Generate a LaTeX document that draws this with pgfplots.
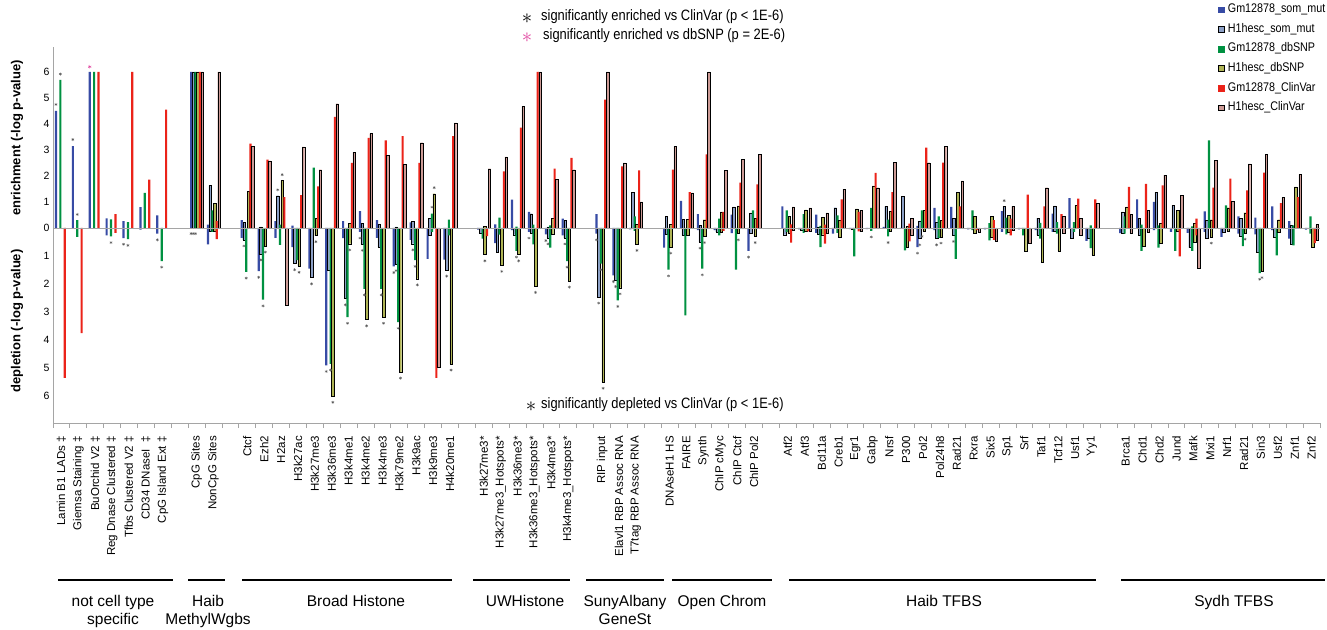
\documentclass[border=0pt]{standalone}
\usepackage{fontspec}
\setmainfont{Liberation Sans}
\newfontfamily\condfont[FakeStretch=0.86]{Liberation Sans}
\usepackage{pgfplots}
\usepackage{pgfplotstable}
\pgfplotsset{compat=1.18}

\definecolor{cGmSom}{RGB}{55,75,165}
\definecolor{cH1Som}{RGB}{140,160,198}
\definecolor{cGmDb}{RGB}{0,145,65}
\definecolor{cH1Db}{RGB}{175,180,85}
\definecolor{cGmCv}{RGB}{235,35,25}
\definecolor{cH1Cv}{RGB}{205,155,150}
\definecolor{cStar}{RGB}{90,90,90}
\definecolor{cPinkStar}{RGB}{225,70,160}
\definecolor{cAxis}{RGB}{165,165,165}

\newcommand\ticfont{\fontsize{11.5}{13}\selectfont}
\newcommand\yticfont{\fontsize{10.5}{12}\selectfont}
\newcommand\legfont{\condfont\fontsize{12.5}{14}\selectfont}
\newcommand\annfont{\condfont\fontsize{15}{17}\selectfont}
\newcommand\grpfont{\fontsize{15.5}{18}\selectfont}
\newcommand\ylabfont{\bfseries\fontsize{13}{15}\selectfont}

\pgfplotsset{
  gmbar/.style={ybar, bar width=0.13, draw=none, fill=#1, forget plot},
  h1bar/.style={ybar, bar width=0.15, draw=black, line width=0.3pt, fill=#1, forget plot},
}

% enrichment (-log p) per category slot
\pgfplotstableread{
x bu lu gu ou ru pu
0 4.5 0 5.7 0 0 0
1 3.15 0 0.3 0 0 0
2 6 0 6 0 6 0
3 0.37 0 0.33 0 0.53 0
4 0.26 0 0.23 0 6 0
5 0.8 0 1.35 0 1.86 0
6 0.49 0 0 0 4.55 0
8 6 6 6 6 6 6
9 0.13 1.64 0.68 0.96 0.26 6
11 0.3 0.23 0 1.42 3.24 3.14
12 0 0.04 0 0 2.63 2.58
13 0.26 1.24 0.13 1.83 1.19 0
14 0.09 0 0 0 1.26 3.12
15 0 0 2.32 0.36 1.6 2.24
16 0 0 0 0 4.27 4.78
17 0.26 0 0 0.17 2.5 2.92
18 0.65 0.17 0 0 3.47 3.63
19 0.3 0.13 0 0 3.37 2.8
20 0 0.04 0 0 3.53 2.45
21 0.22 0.26 0 0 2.5 3.28
22 0 0.36 0.55 1.32 0 0
23 0 0 0.32 0 3.53 4.04
25 0 0 0 0.06 0 2.28
26 0.14 0 0.4 0 2.18 2.73
27 1.09 0 0.05 0 3.86 4.68
28 0.62 0.55 0.13 0 6 6
29 0 0.04 0.1 0.38 2.28 1.86
30 0.36 0.3 0 0 2.7 2.24
32 0.53 0 0 0 4.94 6
33 0 0 0 0 2.37 2.5
34 0 1.38 0.45 0.13 2.22 1.0
36 0 0.45 0 0.13 2.24 3.14
37 1.04 0.33 0 0.33 1.38 1.35
38 0.53 0.1 0 0.32 2.83 6
39 0 0 0.36 0.62 0.62 2.22
40 0.51 0.81 0 0.85 1.74 2.63
41 0 0.58 0.68 0.36 1.68 2.83
43 0.83 0 0.68 0.45 0.14 0.81
44 0 0 0.53 0.7 0 0.77
45 0.51 0.04 0.08 0.42 0.13 0.58
46 0 0.78 0.49 0.3 1.1 1.49
47 0 0 0 0.74 0.62 0.68
48 0 0 0.77 1.62 2.12 1.55
49 0.04 0.83 0.32 0.65 1.38 2.53
50 0 1.23 0 0.06 0.17 0.38
51 0.08 0.27 0.68 0.68 3.09 2.51
52 0.77 0.23 0.45 0.3 2.51 3.14
53 0.81 0.38 0 1.38 0.83 1.81
54 0 0 0.68 0.46 0 0
55 0 0 0.19 0.46 0.3 0
56 0.65 0.83 0.4 0.49 0.36 0.83
57 0 0 0 0 1.28 0
58 0 0.38 0.2 0 0.83 1.55
59 0.55 0.85 0.23 0 0.53 0.45
60 1.15 0 0.23 0.87 1.13 0.36
61 0 0 0.1 0 1.1 0.94
63 0 0.62 0.45 0.81 1.58 0.53
64 1.1 0.36 0.13 0 1.7 0.68
65 1.0 1.37 0.1 0.17 1.64 2.03
66 0 0.87 0 0.68 0 1.26
67 0 0 0.06 0.19 0.36 0
68 0.64 0.3 3.37 0.32 1.55 2.6
69 0 0 0.87 0.78 1.9 1.03
70 0.45 0.36 0 0.59 1.45 2.47
71 0.4 0 0 0 2.13 2.83
72 0.83 0 0 0.32 0.96 1.17
73 0.26 0.1 0.1 1.58 1.19 2.06
74 0 0 0.45 0 0 0.13
}\enrich

% depletion (-log p) per category slot
\pgfplotstableread{
x bd ld gd od rd pd
0 0 0 0 0 5.35 0
1 0 0 0.32 0 3.75 0
2 0 0 0 0 0 0
3 0.26 0 0.3 0 0.17 0
4 0.36 0 0.4 0 0 0
5 0.06 0 0.03 0 0 0
6 0.2 0 1.18 0 0 0
8 0 0 0 0 0 0
9 0.58 0.1 0.14 0.1 0.4 0
11 0.35 0.42 1.57 0 0 0
12 1.54 0.92 2.56 0.64 0 0
13 0.35 0 0.6 0 0 2.76
14 0.68 1.27 1.15 1.36 0 0
15 1.45 1.77 0 0.27 0 0
16 4.9 1.5 4.85 6.0 0 0
17 0.36 2.52 3.18 0.56 0 0
18 0.14 0.58 2.17 3.27 0 0
19 0.35 0.68 2.17 3.18 0 0
20 1.37 1.3 3.36 5.14 0 0
21 0.42 0.56 1.15 1.81 0 0
22 1.1 0.26 0.14 0 5.35 4.96
23 1.13 1.5 0.26 4.85 0 0
25 0.06 0.17 0.38 0.95 0.29 0
26 0.54 0.86 0.24 1.33 0 0
27 0.08 0.24 0.82 0.95 0 0
28 0.14 0.17 0.58 2.08 0 0
29 0.23 0.35 0.7 0.23 0 0
30 0.26 0.35 1.18 1.89 0 0
32 0.2 2.46 1.27 5.5 0 0
33 1.69 1.87 2.58 2.13 0 0
34 0.05 0 0.1 0.58 0 0
36 0.7 0.23 1.49 0.68 0 0
37 0 0.26 3.12 0.26 0 0
38 0.08 0.5 1.45 0.3 0 0
39 0.08 0.14 0.26 0.14 0.1 0
40 0.18 0 1.49 0.2 0 0
41 0.82 0.18 0 0.3 0 0
43 0 0.24 0.14 0.2 0.52 0.08
44 0.05 0.08 0.17 0.12 0.12 0.1
45 0.17 0.23 0.68 0.24 0.56 0.18
46 0.2 0 0.17 0.32 0 0
47 0.04 0.05 1.01 0 0.12 0.12
48 0.04 0 0.1 0 0 0
49 0 0 0.3 0.12 0 0
50 0 0 0.8 0.7 0.48 0.26
51 0.68 0.38 0 0.1 0 0
52 0.08 0.38 0.35 0.32 0 0
53 0 0.26 1.1 0 0 0
54 0.05 0 0.08 0.2 0.08 0.14
55 0.05 0 0.44 0.32 0.42 0.46
56 0.14 0 0.23 0.15 0.26 0.08
57 0.05 0 0.26 0.82 0 0.54
58 0.08 0.26 0.38 1.21 0 0
59 0.14 0.1 0.2 0.82 0 0.18
60 0 0.35 0.14 0 0 0.26
61 0.46 0.38 0.72 0.97 0 0
63 0.18 0.18 0.2 0 0 0.2
64 0 0.26 0.82 0.64 0 0.14
65 0.08 0 0.7 0.54 0 0
66 0.14 0 0.82 0.12 1.01 0
67 0.17 0.7 0.82 0.5 0.26 1.45
68 0.14 0.35 0 0.32 0 0
69 0.32 0.14 0 0.1 0 0
70 0.2 0.3 0.65 0.18 0 0
71 0.23 0.86 1.61 1.55 0 0
72 0.08 0.32 0.98 0.14 0 0
73 0.38 0.58 0.62 0 0 0
74 0.06 0 0.2 0.7 0.54 0.44
}\deplete

\begin{document}
\begin{tikzpicture}
\useasboundingbox (0,0) rectangle (1327pt,629pt);

% ---------------- enrichment axis ----------------
\begin{axis}[
  at={(53pt,401pt)}, anchor=south west, scale only axis,
  width=1267pt, height=181pt,
  xmin=-0.5, xmax=74.5, ymin=0, ymax=6.96,
  axis x line=none, axis y line*=left,
  axis line style={-, draw=cAxis, line width=0.9pt},
  xtick=\empty, ytick={1,...,6},
  major tick length=0pt,
  /pgf/number format/assume math mode=true,
  yticklabel style={font=\yticfont},
  clip=false,
  legend style={at={(0.9195,1.243)}, anchor=north west, draw=none, fill=none,
    font=\legfont, row sep=6.6pt, inner sep=0pt, column sep=3pt,
    nodes={inner sep=0.5pt, text height=9pt, text depth=3pt}},
  legend cell align=left,
]
\addplot[gmbar=cGmSom, bar shift=-0.325] table[x=x, y=bu] {\enrich};
\addplot[h1bar=cH1Som, bar shift=-0.195, skip coords between index={0}{7}] table[x=x, y=lu] {\enrich};
\addplot[gmbar=cGmDb, bar shift=-0.065] table[x=x, y=gu] {\enrich};
\addplot[h1bar=cH1Db, bar shift=0.065, skip coords between index={0}{7}] table[x=x, y=ou] {\enrich};
\addplot[gmbar=cGmCv, bar shift=0.195] table[x=x, y=ru] {\enrich};
\addplot[h1bar=cH1Cv, bar shift=0.325, skip coords between index={0}{7}] table[x=x, y=pu] {\enrich};
% significance asterisks (enrichment)
\addplot[only marks, mark=asterisk, mark size=1.5pt, color=cStar, forget plot] coordinates {
(-0.325,4.75) (-0.065,5.92) (0.675,3.4) (0.935,0.52) (12.805,1.47) (13.065,2.05)
(21.935,0.8) (22.065,1.55) (55.805,1.05)};
\addplot[only marks, mark=asterisk, mark size=1.8pt, color=cPinkStar, forget plot] coordinates {(1.675,6.2)};

\addlegendimage{legend image code/.code={\fill[cGmSom] (0pt,-2.8pt) rectangle (5.6pt,2.8pt);}}
\addlegendentry{Gm12878\_som\_mut}
\addlegendimage{legend image code/.code={\filldraw[fill=cH1Som, draw=black, line width=0.6pt] (0pt,-2.8pt) rectangle (5.6pt,2.8pt);}}
\addlegendentry{H1hesc\_som\_mut}
\addlegendimage{legend image code/.code={\fill[cGmDb] (0pt,-2.8pt) rectangle (5.6pt,2.8pt);}}
\addlegendentry{Gm12878\_dbSNP}
\addlegendimage{legend image code/.code={\filldraw[fill=cH1Db, draw=black, line width=0.6pt] (0pt,-2.8pt) rectangle (5.6pt,2.8pt);}}
\addlegendentry{H1hesc\_dbSNP}
\addlegendimage{legend image code/.code={\fill[cGmCv] (0pt,-2.8pt) rectangle (5.6pt,2.8pt);}}
\addlegendentry{Gm12878\_ClinVar}
\addlegendimage{legend image code/.code={\filldraw[fill=cH1Cv, draw=black, line width=0.6pt] (0pt,-2.8pt) rectangle (5.6pt,2.8pt);}}
\addlegendentry{H1hesc\_ClinVar}
\end{axis}

% ---------------- depletion axis ----------------
\begin{axis}[
  at={(53pt,206pt)}, anchor=south west, scale only axis,
  width=1267pt, height=195pt,
  xmin=-0.5, xmax=74.5, ymin=-6.96, ymax=0,
  axis x line*=bottom, axis y line*=left,
  axis line style={-, draw=cAxis, line width=0.9pt},
  ytick={-6,-5,-4,-3,-2,-1,0}, yticklabels={6,5,4,3,2,1,0},
  yticklabel style={font=\yticfont},
  xtick={0,1,2,3,4,5,6,8,9,11,12,13,14,15,16,17,18,19,20,21,22,23,25,26,27,28,29,30,32,33,34,36,37,38,39,40,41,43,44,45,46,47,48,49,50,51,52,53,54,55,56,57,58,59,60,61,63,64,65,66,67,68,69,70,71,72,73,74},
  xticklabels={Lamin B1 LADs ‡, Giemsa Staining ‡, BuOrchid V2 ‡, Reg Dnase Clustered ‡, Tfbs Clustered V2 ‡, CD34 DNaseI~~‡, CpG Island Ext ‡,
    CpG Sites, NonCpG Sites,
    Ctcf, Ezh2, H2az, H3k27ac, H3k27me3, H3k36me3, H3k4me1, H3k4me2, H3k4me3, H3k79me2, H3k9ac, H3k9me3, H4k20me1,
    H3k27me3*, H3k27me3\_Hotspots*, H3k36me3*, H3k36me3\_Hotspots*, H3k4me3*, H3k4me3\_Hotspots*,
    RIP input, Elavl1 RBP Assoc RNA, T7tag RBP Assoc RNA,
    DNAseH1 HS, FAIRE, Synth, ChIP cMyc, ChIP Ctcf, ChIP Pol2,
    Atf2, Atf3, Bcl11a, Creb1, Egr1, Gabp, Nrsf, P300, Pol2, Pol24h8, Rad21, Rxra, Six5, Sp1, Srf, Taf1, Tcf12, Usf1, Yy1,
    Brca1, Chd1, Chd2, Jund, Mafk, Mxi1, Nrf1, Rad21, Sin3, Usf2, Znf1, Znf2},
  minor xtick={-0.5,0.5,...,74.5},
  major tick length=0pt, minor tick length=5pt, tick align=outside,
  minor tick style={draw=cAxis, line width=0.8pt},
  xticklabel style={rotate=90, anchor=east, font=\ticfont, inner sep=0pt},
  xticklabel shift=13pt,
  clip=false,
]
\addplot[gmbar=cGmSom, bar shift=-0.325] table[x=x, y expr=-\thisrow{bd}] {\deplete};
\addplot[h1bar=cH1Som, bar shift=-0.195, skip coords between index={0}{7}] table[x=x, y expr=-\thisrow{ld}] {\deplete};
\addplot[gmbar=cGmDb, bar shift=-0.065] table[x=x, y expr=-\thisrow{gd}] {\deplete};
\addplot[h1bar=cH1Db, bar shift=0.065, skip coords between index={0}{7}] table[x=x, y expr=-\thisrow{od}] {\deplete};
\addplot[gmbar=cGmCv, bar shift=0.195] table[x=x, y expr=-\thisrow{rd}] {\deplete};
\addplot[h1bar=cH1Cv, bar shift=0.325, skip coords between index={0}{7}] table[x=x, y expr=-\thisrow{pd}] {\deplete};
% significance asterisks (depletion)
\addplot[only marks, mark=asterisk, mark size=1.5pt, color=cStar, forget plot] coordinates {
(2.935,-0.52) (3.675,-0.58) (3.935,-0.62) (5.675,-0.42) (5.935,-1.4)
(7.675,-0.2) (7.805,-0.2) (7.935,-0.2)
(10.805,-0.64) (10.935,-1.79)
(11.675,-1.76) (11.805,-1.14) (11.935,-2.78) (12.065,-0.86)
(13.805,-1.49) (14.065,-1.58)
(14.805,-1.99) (15.065,-0.49)
(15.675,-5.12) (15.935,-5.07) (16.065,-6.22)
(16.805,-2.74) (16.935,-3.4) (17.065,-0.78)
(17.675,-0.36) (17.805,-0.8) (17.935,-2.39) (18.065,-3.49)
(18.935,-2.39) (19.065,-3.4)
(19.675,-1.59) (19.805,-1.52) (19.935,-3.58) (20.065,-5.36)
(20.805,-0.78) (20.935,-1.37) (21.065,-2.03)
(22.805,-1.72) (23.065,-5.07)
(25.065,-1.17) (26.065,-1.55) (26.935,-1.04) (27.065,-1.17)
(27.675,-0.36) (28.065,-2.3) (28.675,-0.45) (28.805,-0.57)
(29.805,-0.57) (29.935,-1.4) (30.065,-2.11)
(31.675,-0.42) (31.805,-2.68) (31.935,-1.49) (32.065,-5.72)
(32.675,-1.91) (32.805,-2.09) (32.935,-2.8) (33.065,-2.35)
(34.065,-0.8) (35.935,-1.71) (36.065,-0.9)
(37.805,-0.72) (37.935,-1.67) (38.065,-0.52)
(40.065,-0.42) (40.675,-1.04) (41.065,-0.52)
(47.935,-0.32) (48.935,-0.52)
(50.675,-0.9) (50.805,-0.6) (50.935,-0.3)
(51.805,-0.6) (52.065,-0.54) (52.805,-0.48)
(68.065,-0.54) (70.065,-0.4) (70.935,-1.83) (71.065,-1.77)};
% zero line
\draw[cAxis, line width=1pt] (rel axis cs:0,1) -- (rel axis cs:1,1);
\end{axis}

% ---------------- axis titles ----------------
\node[rotate=90, font=\ylabfont] at (17pt,491pt) {enrichment (-log p-value)};
\node[rotate=90, font=\ylabfont] at (17pt,308pt) {depletion (-log p-value)};

% ---------------- significance key ----------------
\node[font=\fontsize{20}{20}\selectfont] at (527pt,610pt) {$\ast$};
\node[anchor=west, font=\annfont, inner sep=0pt] at (541pt,612pt) {significantly enriched vs ClinVar (p < 1E-6)};
\node[font=\fontsize{20}{20}\selectfont, text=cPinkStar] at (527pt,591pt) {$\ast$};
\node[anchor=west, font=\annfont, inner sep=0pt] at (543pt,593pt) {significantly enriched vs dbSNP (p = 2E-6)};
\node[font=\fontsize{20}{20}\selectfont] at (531pt,222pt) {$\ast$};
\node[anchor=west, font=\annfont, inner sep=0pt] at (541pt,224pt) {significantly depleted vs ClinVar (p < 1E-6)};

% ---------------- group brackets ----------------
\foreach \a/\b in {58/173, 188/225, 242/452, 473/570, 586/664, 672/772, 789/1096, 1121/1325}
  \draw[black, line width=2.5pt] (\a pt,49pt) -- (\b pt,49pt);
\node[anchor=base, font=\grpfont, inner sep=0pt] at (113pt,22.5pt) {not cell type};
\node[anchor=base, font=\grpfont, inner sep=0pt] at (113pt,4.5pt) {specific};
\node[anchor=base, font=\grpfont, inner sep=0pt] at (208pt,22.5pt) {Haib};
\node[anchor=base, font=\grpfont, inner sep=0pt] at (208pt,4.5pt) {MethylWgbs};
\node[anchor=base, font=\grpfont, inner sep=0pt] at (356pt,22.5pt) {Broad Histone};
\node[anchor=base, font=\grpfont, inner sep=0pt] at (525pt,22.5pt) {UWHistone};
\node[anchor=base, font=\grpfont, inner sep=0pt] at (625pt,22.5pt) {SunyAlbany};
\node[anchor=base, font=\grpfont, inner sep=0pt] at (625pt,4.5pt) {GeneSt};
\node[anchor=base, font=\grpfont, inner sep=0pt] at (722pt,22.5pt) {Open Chrom};
\node[anchor=base, font=\grpfont, inner sep=0pt] at (944pt,22.5pt) {Haib TFBS};
\node[anchor=base, font=\grpfont, inner sep=0pt] at (1234pt,22.5pt) {Sydh TFBS};
\end{tikzpicture}
\end{document}
